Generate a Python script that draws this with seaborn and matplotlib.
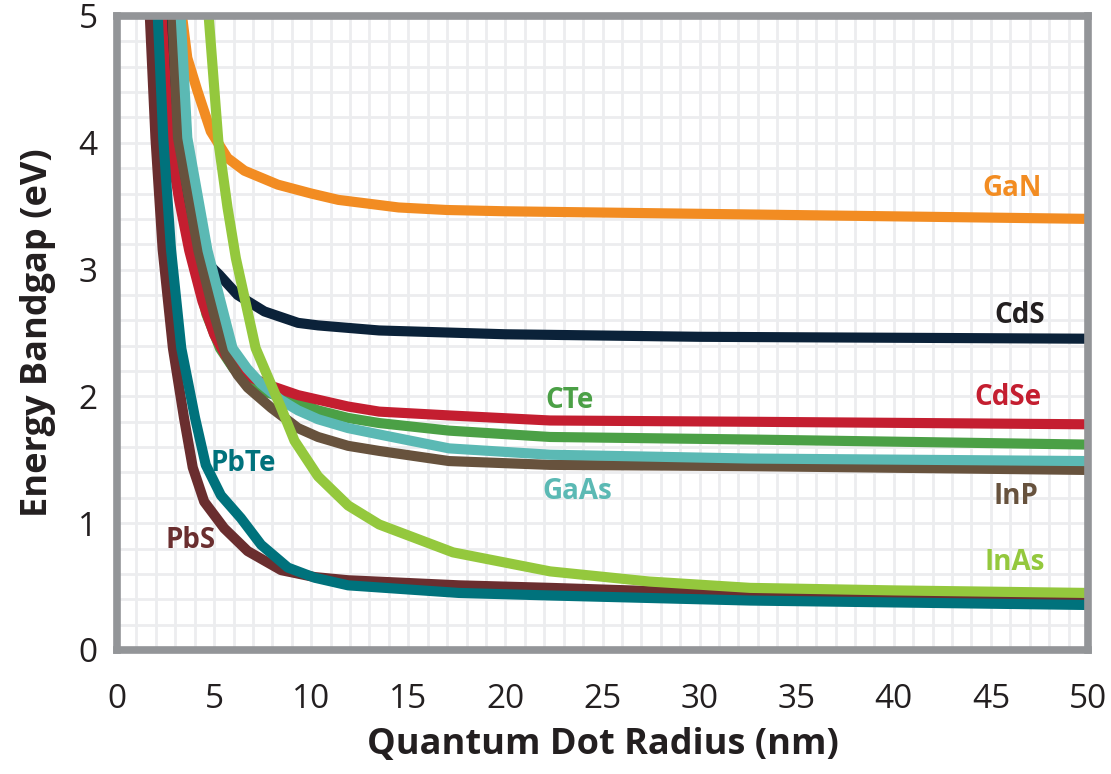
import matplotlib
matplotlib.use("Agg")
import matplotlib.pyplot as plt
from matplotlib.ticker import MultipleLocator
import seaborn as sns
import pandas as pd

# ---- data ----
gan_x = [3.35, 3.62, 4.14, 4.83, 5.69, 6.56, 8.28, 10.0, 11.39, 14.5, 17.0, 20.0, 30.0, 40.0, 50.0]
gan_y = [5.0, 4.67, 4.41, 4.09, 3.88, 3.78, 3.67, 3.60, 3.55, 3.49, 3.47, 3.46, 3.44, 3.42, 3.40]

cds_x = [2.48, 2.85, 3.4, 4.0, 4.6, 5.26, 6.21, 7.59, 9.32, 10.35, 13.5, 20.0, 30.0, 50.0]
cds_y = [5.0, 4.04, 3.5, 3.2, 3.06, 2.96, 2.80, 2.67, 2.58, 2.56, 2.52, 2.49, 2.47, 2.455]

cdse_x = [2.3, 2.67, 3.2, 3.72, 4.4, 5.0, 5.6, 6.2, 6.73, 7.8, 9.32, 11.9, 13.5, 17.1, 22.3, 32.6, 50.0]
cdse_y = [5.0, 4.04, 3.55, 3.15, 2.75, 2.49, 2.32, 2.22, 2.16, 2.09, 2.01, 1.92, 1.88, 1.85, 1.81, 1.80, 1.78]

cte_x = [2.33, 2.8, 3.85, 4.6, 5.3, 6.0, 6.73, 7.76, 9.32, 10.35, 11.9, 13.5, 17.1, 22.3, 32.6, 50.0]
cte_y = [5.0, 4.04, 3.15, 2.65, 2.38, 2.22, 2.12, 2.03, 1.95, 1.89, 1.83, 1.79, 1.73, 1.68, 1.66, 1.62]

gaas_x = [3.28, 3.62, 4.66, 5.95, 6.7, 7.42, 8.45, 9.32, 10.35, 11.9, 13.5, 17.1, 22.3, 32.6, 50.0]
gaas_y = [5.0, 4.04, 3.15, 2.38, 2.22, 2.10, 1.97, 1.89, 1.82, 1.75, 1.70, 1.59, 1.54, 1.51, 1.49]

inp_x = [2.85, 3.14, 4.19, 5.0, 5.43, 5.69, 6.21, 6.73, 7.94, 9.32, 10.35, 11.9, 13.5, 17.1, 22.3, 32.6, 50.0]
inp_y = [5.0, 4.04, 3.15, 2.65, 2.42, 2.30, 2.17, 2.07, 1.91, 1.75, 1.68, 1.61, 1.57, 1.49, 1.46, 1.45, 1.42]

inas_x = [4.72, 5.22, 5.69, 6.12, 7.14, 8.45, 9.14, 10.35, 11.9, 13.5, 17.3, 22.3, 27.4, 32.6, 40.0, 50.0]
inas_y = [5.0, 4.01, 3.49, 3.09, 2.38, 1.91, 1.65, 1.37, 1.14, 0.99, 0.77, 0.62, 0.54, 0.49, 0.47, 0.45]

pbs_x = [1.69, 1.98, 2.35, 2.88, 3.45, 3.9, 4.49, 5.52, 6.73, 8.45, 10.18, 11.9, 17.6, 22.3, 32.6, 50.0]
pbs_y = [5.0, 4.04, 3.16, 2.38, 1.83, 1.44, 1.17, 0.96, 0.78, 0.63, 0.575, 0.55, 0.51, 0.49, 0.44, 0.40]

pbte_x = [2.1, 2.38, 2.78, 3.31, 4.02, 4.57, 5.35, 6.38, 7.42, 8.8, 10.18, 11.9, 17.6, 22.3, 32.6, 50.0]
pbte_y = [5.0, 4.04, 3.16, 2.38, 1.83, 1.46, 1.22, 1.04, 0.83, 0.65, 0.57, 0.51, 0.45, 0.43, 0.39, 0.355]

# label positions (data coords)
names = ["GaN", "CTe", "CdS", "CdSe", "InP", "GaAs", "PbS", "PbTe", "InAs"]
label_x = {"GaN": 46.1, "CdS": 46.5, "CdSe": 45.9, "CTe": 23.3, "GaAs": 23.7,
           "InP": 46.3, "InAs": 46.2, "PbTe": 6.5, "PbS": 3.8}
label_y = {"GaN": 3.64, "CdS": 2.64, "CdSe": 1.99, "CTe": 1.97, "GaAs": 1.25,
           "InP": 1.21, "InAs": 0.69, "PbTe": 1.47, "PbS": 0.86}

colors = {"GaN": "#F28C22", "CdS": "#0B2239", "CdSe": "#C41E30", "CTe": "#4BA046",
          "GaAs": "#5BB9B4", "InP": "#67523D", "InAs": "#94C83D", "PbS": "#6A2E2F",
          "PbTe": "#00727C"}
label_colors = dict(colors)
label_colors["CdS"] = "#231F20"

series = {"GaN": (gan_x, gan_y), "CdS": (cds_x, cds_y), "CdSe": (cdse_x, cdse_y),
          "CTe": (cte_x, cte_y), "GaAs": (gaas_x, gaas_y), "InP": (inp_x, inp_y),
          "InAs": (inas_x, inas_y), "PbS": (pbs_x, pbs_y), "PbTe": (pbte_x, pbte_y)}

sns.set_theme(style="white")
plt.rcParams["font.family"] = ["Open Sans", "DejaVu Sans"]

fig = plt.figure(figsize=(11.11, 7.74), dpi=100)
ax = fig.add_axes([117 / 1111, 1 - 650 / 774, (1088 - 117) / 1111, (650 - 16) / 774])

draw_order = ["GaN", "CTe", "CdS", "CdSe", "InP", "GaAs", "PbS", "PbTe", "InAs"]
for i, name in enumerate(draw_order):
    xs, ys = series[name]
    df = pd.DataFrame({"x": xs, "y": ys})
    sns.lineplot(data=df, x="x", y="y", ax=ax, color=colors[name], linewidth=7.3,
                 estimator=None, sort=False, zorder=3 + i, solid_capstyle="butt",
                 solid_joinstyle="round")

for name in names:
    ax.text(label_x[name], label_y[name], name, color=label_colors[name],
            fontsize=20, fontweight="bold", ha="center", va="center", zorder=20)

ax.set_xlim(0, 50)
ax.set_ylim(0, 5)
ax.xaxis.set_major_locator(MultipleLocator(5))
ax.yaxis.set_major_locator(MultipleLocator(1))
ax.xaxis.set_minor_locator(MultipleLocator(1))
ax.yaxis.set_minor_locator(MultipleLocator(0.2))
ax.grid(which="both", color="#ECEDEF", linewidth=2.0)
ax.set_axisbelow(True)
ax.set_facecolor("white")
for sp in ax.spines.values():
    sp.set_color("#939598")
    sp.set_linewidth(5.5)
    sp.set_visible(True)
    sp.set_zorder(30)

ax.tick_params(axis="both", which="both", length=0, labelsize=24, colors="#231F20")
ax.tick_params(axis="x", pad=24)
ax.tick_params(axis="y", pad=14)
ax.set_xlabel("Quantum Dot Radius (nm)", fontsize=26, fontweight="bold", color="#231F20", labelpad=8)
ax.set_ylabel("Energy Bandgap (eV)", fontsize=26, fontweight="bold", color="#231F20", labelpad=16)

fig.savefig("out.png", dpi=100)
